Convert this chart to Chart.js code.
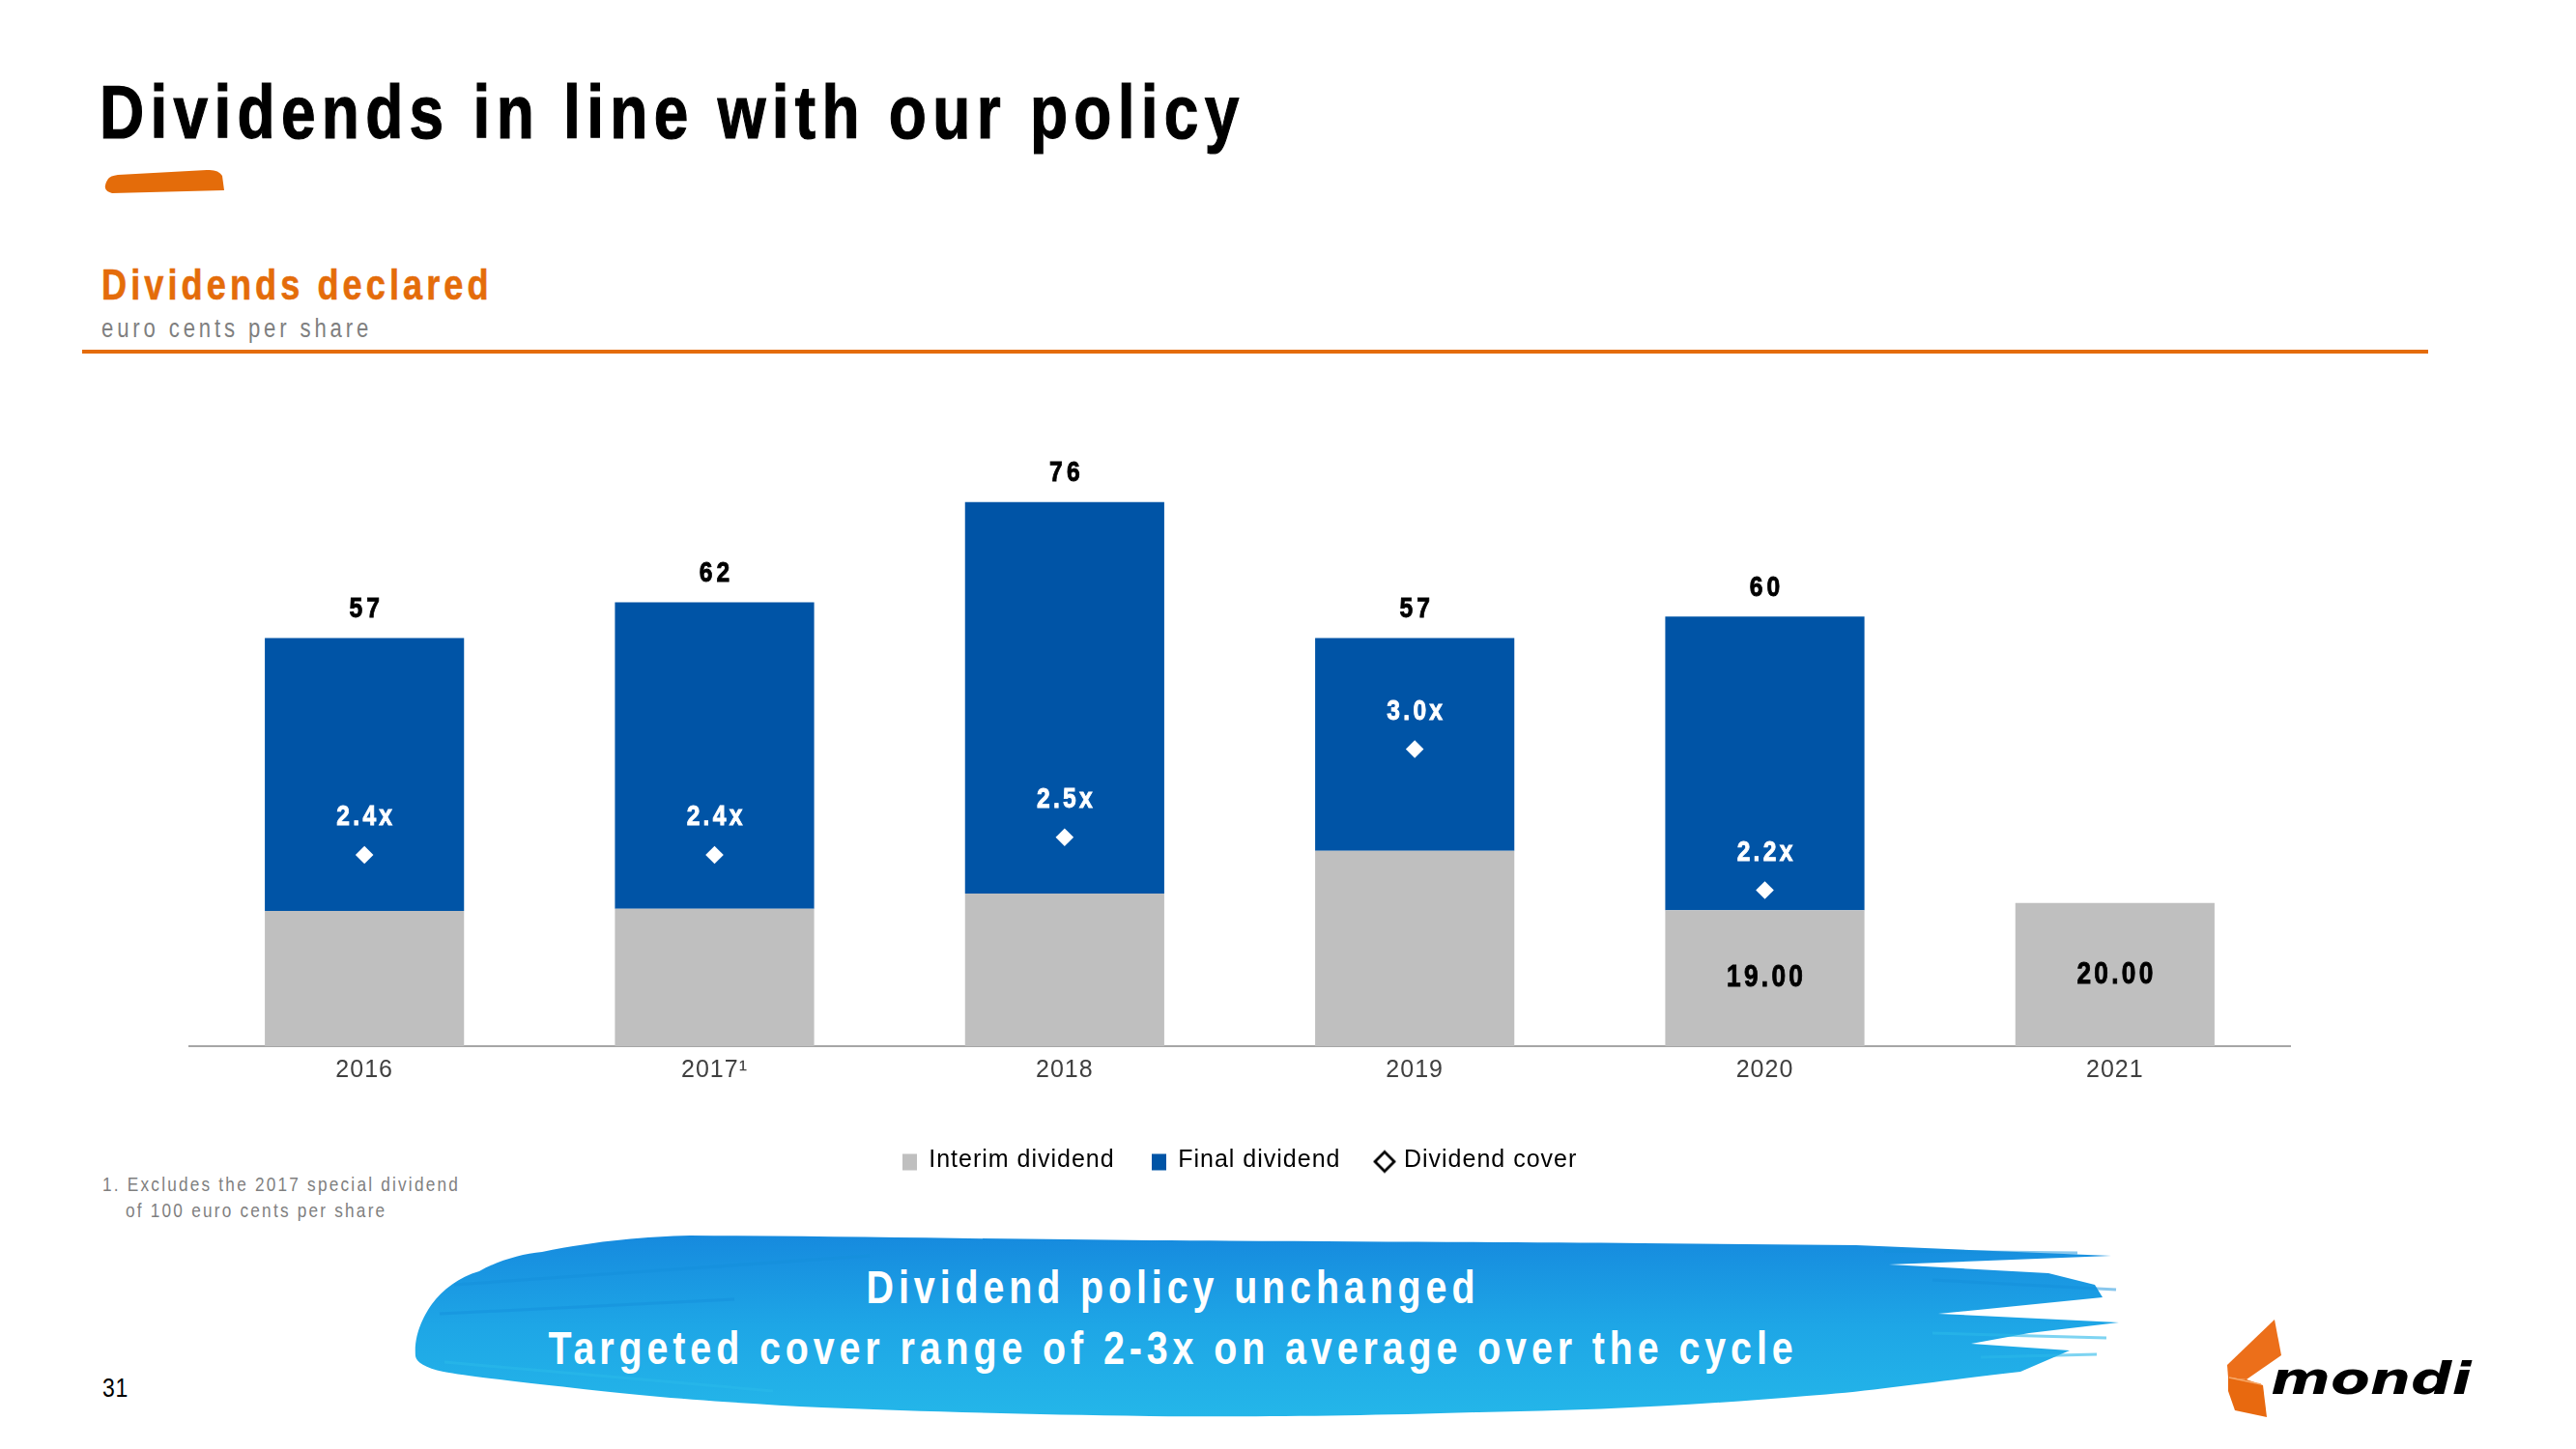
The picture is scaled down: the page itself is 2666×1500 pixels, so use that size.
<!DOCTYPE html>
<html>
<head>
<meta charset="utf-8">
<script src="https://cdn.jsdelivr.net/npm/chart.js@4.4.1/dist/chart.umd.min.js"></script>
<style>
    html, body { margin: 0; padding: 0; background: #fff; }
    body {
        width: 2666px; height: 1500px; position: relative; overflow: hidden;
        font-family: "Liberation Sans", Arial, sans-serif;
    }
    /* the slide uses a narrow face; squeeze the regular one */
    .txt { position: absolute; white-space: nowrap; line-height: 1; z-index: 2;
           transform: scaleX(0.82); transform-origin: 0 0; }
    #title { left: 103px; top: 77px; font-size: 78px; font-weight: bold; letter-spacing: 7.7px; color: #000;
             -webkit-text-stroke: 1.2px #000; }
    #subtitle { left: 105px; top: 273px; font-size: 44px; font-weight: bold; letter-spacing: 5px; color: #e46c0a;
                -webkit-text-stroke: 0.6px #e46c0a; }
    #unit { left: 105px; top: 327px; font-size: 27px; letter-spacing: 4.7px; color: #7f7f7f; }
    #rule { position: absolute; left: 85px; top: 362px; width: 2428px; height: 4px; background: #e46c0a; }
    .note { font-size: 21px; letter-spacing: 2.7px; color: #7f7f7f; }
    #page { left: 106px; top: 1423px; font-size: 28px; color: #000; letter-spacing: 1px; }
    .banner { left: 0; width: 2428px; text-align: center; font-size: 48px; font-weight: bold;
              letter-spacing: 6px; color: #fff; transform-origin: 50% 0; }
    #art { position: absolute; left: 0; top: 0; z-index: 1; }
    #chartBox { position: absolute; left: 0; top: 400px; width: 2666px; height: 824px; z-index: 3; }
</style>
</head>
<body>
<svg id="art" width="2666" height="1500" viewBox="0 0 2666 1500">
    <defs>
        <linearGradient id="paint" x1="0" y1="0" x2="0" y2="1">
            <stop offset="0" stop-color="#168ade"/>
            <stop offset="0.5" stop-color="#1ea6e6"/>
            <stop offset="1" stop-color="#24b6e9"/>
        </linearGradient>
    </defs>
    <!-- small brush under title -->
    <path d="M112,185 Q104,197 116,200 L232,197 L230,182 Q226,175 214,176 L122,181 Q114,182 112,185 Z" fill="#e46c0a"/>
    <!-- blue brush banner -->
    <path fill="url(#paint)" d="M430,1404 C428,1380 440,1360 447,1350 C458,1335 475,1322 496,1316
        C515,1305 540,1298 561,1296 C620,1284 670,1280 714,1279 C900,1280 1050,1283 1190,1284
        C1400,1285 1550,1286 1700,1287 L1921,1289 L2185,1300 L1955,1309 L2120,1318 L2168,1330
        L2176,1343 L2006,1360 L2193,1369 L2100,1380 L2040,1391 L2142,1398 L2091,1420
        C2000,1430 1940,1440 1870,1445 C1750,1455 1650,1460 1530,1462 C1400,1466 1300,1467 1190,1466
        C1050,1464 950,1461 850,1457 C750,1452 660,1445 595,1437 C530,1430 480,1424 459,1420
        C440,1416 431,1410 430,1404 Z"/>
    <g stroke="#1590dc" stroke-width="3" opacity="0.5" fill="none">
        <path d="M470,1330 L900,1300"/>
        <path d="M455,1360 L760,1345"/>
        <path d="M1950,1295 L2150,1297"/>
        <path d="M2000,1325 L2190,1335"/>
    </g>
    <g stroke="#2ab9ea" stroke-width="3" opacity="0.6" fill="none">
        <path d="M2000,1380 L2180,1385"/>
        <path d="M2050,1405 L2170,1402"/>
        <path d="M460,1410 L800,1440"/>
    </g>
    <!-- logo -->
    <polygon points="2305,1413 2354,1366 2361,1403 2325,1428 2306,1426" fill="#ec6f1a"/>
    <polygon points="2306,1426 2325,1428 2342,1434 2346,1467 2313,1460 2306,1440" fill="#e8690f"/>
    <path d="M2307,1426 L2340,1433" stroke="#f7a868" stroke-width="1.5"/>
    <text x="2350" y="1443" font-family="DejaVu Sans, sans-serif" font-size="46" font-weight="900"
          font-style="italic" textLength="208" lengthAdjust="spacingAndGlyphs" fill="#000">mondi</text>
</svg>

<div class="txt" id="title">Dividends in line with our policy</div>
<div class="txt" id="subtitle">Dividends declared</div>
<div class="txt" id="unit">euro cents per share</div>
<div id="rule"></div>
<div class="txt note" style="left:106px; top:1215px;">1. Excludes the 2017 special dividend</div>
<div class="txt note" style="left:130px; top:1242px;">of 100 euro cents per share</div>
<div class="txt" id="page">31</div>
<div class="txt banner" style="top:1309px;">Dividend policy unchanged</div>
<div class="txt banner" style="top:1372px;">Targeted cover range of 2-3x on average over the cycle</div>

<div id="chartBox"><canvas id="dividendChart"></canvas></div>

<script>
const FONT = '"Liberation Sans", Arial, sans-serif';

// values (euro cents per share)
const years = ['2016', '2017¹', '2018', '2019', '2020', '2021'];
const interim = [18.9, 19.2, 21.3, 27.3, 19.0, 20.0];
const finalDiv = [38.1, 42.8, 54.7, 29.7, 41.0, null];
const cover = [2.4, 2.4, 2.5, 3.0, 2.2, null];
const interimLabels = ['', '', '', '', '19.00', '20.00'];

const GREY = '#bfbfbf';
const BLUE = '#0054a6';

// legend icons
function legendRect(color) {
    const c = document.createElement('canvas');
    c.width = 15; c.height = 32;
    const g = c.getContext('2d');
    g.fillStyle = color;
    g.fillRect(0, 9, 15, 17);
    return c;
}
function legendDiamond() {
    const c = document.createElement('canvas');
    c.width = 24; c.height = 32;
    const g = c.getContext('2d');
    g.beginPath();
    g.moveTo(12, 7); g.lineTo(22, 17); g.lineTo(12, 27); g.lineTo(2, 17); g.closePath();
    g.fillStyle = '#fff'; g.fill();
    g.lineWidth = 2.8; g.strokeStyle = '#000'; g.stroke();
    return c;
}
const legendIcons = [legendRect(GREY), legendRect(BLUE), legendDiamond()];

// a bit of tracking on the library's own text (ticks, legend)
const tracking = {
    id: 'tracking',
    beforeLayout(chart) { chart.ctx.letterSpacing = '1px'; },
    beforeDraw(chart) { chart.ctx.letterSpacing = '1px'; }
};

// narrow, tracked, slightly heavier label like the slide's Arial Narrow Bold
function narrowText(ctx, text, x, y, spacing) {
    ctx.save();
    ctx.translate(x, y);
    ctx.scale(0.82, 1);
    ctx.letterSpacing = spacing + 'px';
    ctx.lineWidth = 0.9;
    ctx.strokeStyle = ctx.fillStyle;
    ctx.fillText(text, spacing / 2, 0);
    ctx.strokeText(text, spacing / 2, 0);
    ctx.restore();
}

const valueLabels = {
    id: 'valueLabels',
    afterDatasetsDraw(chart) {
        const ctx = chart.ctx;
        const interimMeta = chart.getDatasetMeta(0);
        const finalMeta = chart.getDatasetMeta(1);
        const coverMeta = chart.getDatasetMeta(2);
        ctx.save();
        ctx.textAlign = 'center';
        ctx.textBaseline = 'middle';
        years.forEach(function (yr, i) {
            if (finalDiv[i] != null) {
                const fb = finalMeta.data[i];
                ctx.font = 'bold 30px ' + FONT;
                ctx.fillStyle = '#000';
                narrowText(ctx, String(Math.round(interim[i] + finalDiv[i])), fb.x, fb.y - 30, 5);
            }
            if (interimLabels[i]) {
                const ib = interimMeta.data[i];
                ctx.font = 'bold 32px ' + FONT;
                ctx.fillStyle = '#000';
                narrowText(ctx, interimLabels[i], ib.x, (ib.y + ib.base) / 2, 4);
            }
            if (cover[i] != null) {
                const p = coverMeta.data[i];
                ctx.font = 'bold 30px ' + FONT;
                ctx.fillStyle = '#fff';
                narrowText(ctx, cover[i].toFixed(1) + 'x', p.x, p.y - 39, 4);
            }
        });
        ctx.restore();
    }
};

new Chart(document.getElementById('dividendChart'), {
    data: {
        labels: years,
        datasets: [
            {
                type: 'bar',
                label: 'Interim dividend',
                data: interim,
                backgroundColor: GREY,
                borderWidth: 0,
                order: 1
            },
            {
                type: 'bar',
                label: 'Final dividend',
                data: finalDiv,
                backgroundColor: BLUE,
                borderWidth: 0,
                order: 1
            },
            {
                type: 'line',
                label: 'Dividend cover',
                data: cover,
                yAxisID: 'y2',
                showLine: false,
                pointStyle: 'rectRot',
                pointRadius: 9.3,
                pointBackgroundColor: '#fff',
                pointBorderWidth: 0,
                order: 0
            }
        ]
    },
    options: {
        responsive: true,
        maintainAspectRatio: false,
        animation: false,
        events: [],
        categoryPercentage: 1,
        barPercentage: 0.569,
        layout: {
            padding: { left: 196, right: 296, top: 90, bottom: 0 }
        },
        plugins: {
            tooltip: { enabled: false },
            legend: {
                position: 'bottom',
                labels: {
                    usePointStyle: true,
                    boxWidth: 15,
                    boxHeight: 17,
                    padding: 38,
                    color: '#000',
                    font: { family: FONT, size: 25 },
                    generateLabels: function (chart) {
                        return chart.data.datasets.map(function (ds, i) {
                            return {
                                text: ds.label,
                                pointStyle: legendIcons[i],
                                fillStyle: 'transparent',
                                strokeStyle: 'transparent',
                                lineWidth: 0,
                                hidden: false,
                                datasetIndex: i
                            };
                        });
                    }
                }
            }
        },
        scales: {
            x: {
                stacked: true,
                grid: { display: false, drawTicks: false },
                border: { display: true, color: '#a6a6a6', width: 2 },
                ticks: {
                    color: '#404040',
                    padding: 10,
                    autoSkip: false,
                    maxRotation: 0,
                    font: { family: FONT, size: 25 }
                },
                afterFit: function (scale) { scale.height = 68; }
            },
            y: {
                display: false,
                stacked: true,
                min: 0,
                max: 80
            },
            y2: {
                display: false,
                position: 'right',
                min: 1.315,
                max: 4.564
            }
        }
    },
    plugins: [tracking, valueLabels]
});
</script>
</body>
</html>
